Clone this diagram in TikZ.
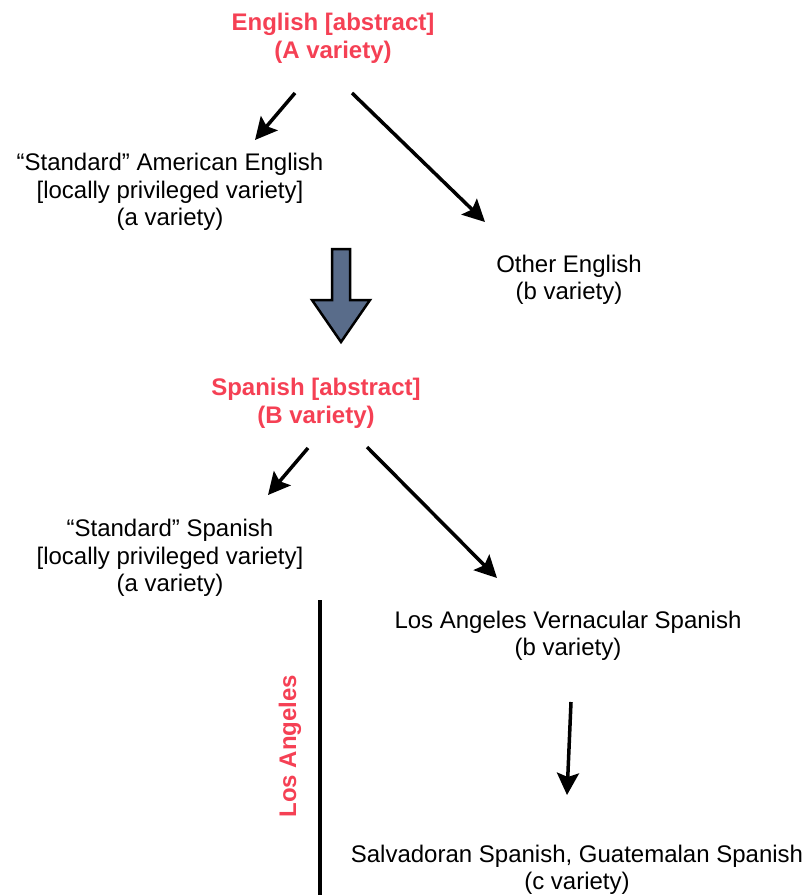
\documentclass[tikz,border=0pt]{standalone}
\usepackage{fontspec}
\setmainfont{Liberation Sans}
\usetikzlibrary{arrows.meta}
\newlength{\du}
\setlength{\du}{0.75pt}
\definecolor{labelred}{rgb}{0.960784, 0.250980, 0.329412}
\definecolor{bigarrowfill}{rgb}{0.349020, 0.423529, 0.541176}
\tikzset{
  textnode/.style={anchor=center,inner sep=0pt,outer sep=0pt,align=center,
    font=\fontsize{24\du}{27.5\du}\selectfont},
  headnode/.style={textnode,text=labelred,font=\fontsize{24\du}{28\du}\selectfont\bfseries},
  arr/.style={line width=3.5\du,-{Stealth[length=16.5pt,width=16.5pt,inset=3pt]}}
}

\begin{document}
\begin{tikzpicture}
\pgftransformxscale{1.000000}
\pgftransformyscale{-1.000000}
\useasboundingbox (0\du,0\du) rectangle (810\du,895\du);
\definecolor{dialinecolor}{rgb}{0.000000, 0.000000, 0.000000}
\pgfsetstrokecolor{dialinecolor}
% setfont left to latex
\node[headnode] (english) at (333\du,38\du){English [abstract]\\(A variety)};
\node[textnode] (stdamerican) at (170\du,192\du){``Standard'' American English\\{}[locally privileged variety]\\(a variety)};
\node[textnode] (otherenglish) at (569\du,280\du){Other English\\(b variety)};
% was here!!!
\coordinate (e1) at (295\du,93\du);
\coordinate (e2) at (255\du,140\du);
\coordinate (e3) at (352\du,93\du);
\coordinate (e4) at (485\du,222\du);
\draw[arr] (e1)--(e2);
\draw[arr] (e3)--(e4);
% big arrow
\pgfsetlinewidth{2.5\du}
\pgfsetmiterjoin
\draw[fill=bigarrowfill] (332\du,249\du)--(350\du,249\du)--(350\du,300\du)--(370\du,300\du)
  --(341\du,342\du)--(312\du,300\du)--(332\du,300\du)--cycle;
% setfont left to latex
\node[headnode] (spanish) at (316\du,403\du){Spanish [abstract]\\(B variety)};
\node[textnode] (stdspanish) at (170\du,558\du){``Standard'' Spanish\\{}[locally privileged variety]\\(a variety)};
\node[textnode] (lavernacular) at (568\du,636\du){Los Angeles Vernacular Spanish\\(b variety)};
\node[textnode] (central) at (577\du,870\du){Salvadoran Spanish, Guatemalan Spanish\\(c variety)};
\coordinate (s1) at (308\du,448\du);
\coordinate (s2) at (268\du,495\du);
\coordinate (s3) at (367\du,447\du);
\coordinate (s4) at (497\du,578\du);
\coordinate (v1) at (571\du,702\du);
\coordinate (v2) at (567\du,795\du);
\draw[arr] (s1)--(s2);
\draw[arr] (s3)--(s4);
\draw[arr] (v1)--(v2);
% Los Angeles divider
\coordinate (la1) at (320\du,600\du);
\coordinate (la2) at (320\du,895\du);
\draw[line width=4\du] (la1)--(la2);
\node[headnode,rotate=90] (losangeles) at (290\du,746\du){Los Angeles};
\end{tikzpicture}
\end{document}
